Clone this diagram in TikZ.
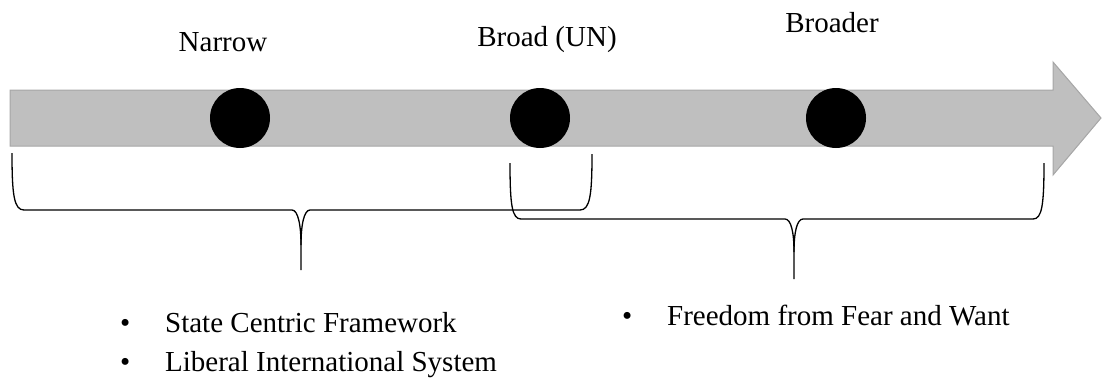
\documentclass[tikz,border=0pt]{standalone}
\usepackage{fontspec}
\setmainfont{Liberation Serif}
\begin{document}
\begin{tikzpicture}[x=1pt,y=-1pt,
  lbl/.style={font=\fontsize{29}{33}\selectfont, inner sep=0pt, anchor=base},
  item/.style={font=\fontsize{29}{33}\selectfont, inner sep=0pt, anchor=base west},
  dot/.style={circle, fill=black, minimum size=60pt, inner sep=0pt},
  brace/.style={draw=black, line width=1.3pt},
  shaft/.style={fill=black!25, draw=black!35, line width=1pt}]
\useasboundingbox (0,0) rectangle (1102,378);
% arrow
\path[shaft] (10,90) -- (1053,90) -- (1053,62) -- (1101,118) -- (1053,175) -- (1053,146) -- (10,146) -- cycle;
% dots
\node[dot] (n1) at (240,118) {};
\node[dot] (n2) at (540,118) {};
\node[dot] (n3) at (836,118) {};
% labels
\node[lbl] (t1) at (223,51) {Narrow};
\node[lbl] (t2) at (547,46) {Broad (UN)};
\node[lbl] (t3) at (832,32) {Broader};
% left brace
\coordinate (la) at (12,153);
\coordinate (lb) at (592,154);
\coordinate (lt) at (301,270);
\draw[brace] (la) .. controls (12,195) and (14,210) .. (24,210) -- (292,210)
  .. controls (298,210) and (301,225) .. (301,245) -- (lt);
\draw[brace] (lb) .. controls (592,195) and (590,210) .. (580,210) -- (310,210)
  .. controls (304,210) and (301,225) .. (301,245);
% right brace
\coordinate (ra) at (510,163);
\coordinate (rb) at (1044,163);
\coordinate (rt) at (794,279);
\draw[brace] (ra) .. controls (510,205) and (512,219) .. (521,219) -- (785,219)
  .. controls (791,219) and (794,232) .. (794,252) -- (rt);
\draw[brace] (rb) .. controls (1044,205) and (1042,219) .. (1033,219) -- (803,219)
  .. controls (797,219) and (794,232) .. (794,252);
% bullets
\node[item] (b1) at (120,332) {\makebox[45pt][l]{•}State Centric Framework};
\node[item] (b2) at (120,371) {\makebox[45pt][l]{•}Liberal International System};
\node[item] (b3) at (622,325) {\makebox[45pt][l]{•}Freedom from Fear and Want};
\end{tikzpicture}
\end{document}
